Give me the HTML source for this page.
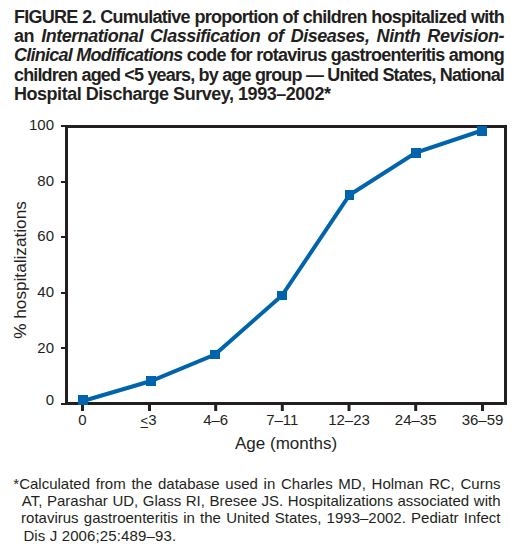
<!DOCTYPE html>
<html><head><meta charset="utf-8">
<style>
html,body{margin:0;padding:0;background:#fff;}
body{width:522px;height:549px;position:relative;overflow:hidden;font-family:"Liberation Sans",sans-serif;color:#231f20;}
.tl{position:absolute;left:14px;width:490px;font-weight:bold;font-size:18px;line-height:19.2px;height:19.2px;white-space:nowrap;}
.j{text-align:justify;text-align-last:justify;white-space:normal;}
.lab{position:absolute;font-size:15px;line-height:15px;white-space:nowrap;}
.fl{position:absolute;font-size:15px;line-height:17.27px;height:17.27px;white-space:nowrap;}
.u{text-decoration:underline;text-underline-offset:1.5px;}
</style></head><body>
<div class="tl j" style="top:8px;letter-spacing:-0.75px">FIGURE 2. Cumulative proportion of children hospitalized with</div>
<div class="tl j" style="top:27.2px;letter-spacing:-0.49px">an <i>International Classification of Diseases, Ninth Revision-</i></div>
<div class="tl j" style="top:46.4px;letter-spacing:-0.76px"><i>Clinical Modifications</i> code for rotavirus gastroenteritis among</div>
<div class="tl j" style="top:65.6px;letter-spacing:-0.85px">children aged &lt;5 years, by age group — United States, National</div>
<div class="tl" style="top:84.8px;letter-spacing:-0.47px">Hospital Discharge Survey, 1993–2002*</div>
<svg width="522" height="549" style="position:absolute;left:0;top:0">
<g stroke="#231f20" fill="none">
<rect x="66.5" y="126.5" width="439" height="277" stroke-width="3"/>
<line x1="61" y1="126" x2="66" y2="126" stroke-width="2"/>
<line x1="61" y1="182" x2="66" y2="182" stroke-width="2"/>
<line x1="61" y1="237" x2="66" y2="237" stroke-width="2"/>
<line x1="61" y1="293" x2="66" y2="293" stroke-width="2"/>
<line x1="61" y1="348" x2="66" y2="348" stroke-width="2"/>
<line x1="61" y1="404" x2="66" y2="404" stroke-width="2"/>
<line x1="82.5" y1="404" x2="82.5" y2="411" stroke-width="3"/>
<line x1="149.5" y1="404" x2="149.5" y2="411" stroke-width="3"/>
<line x1="215.7" y1="404" x2="215.7" y2="411" stroke-width="3"/>
<line x1="282.3" y1="404" x2="282.3" y2="411" stroke-width="3"/>
<line x1="349" y1="404" x2="349" y2="411" stroke-width="3"/>
<line x1="415.7" y1="404" x2="415.7" y2="411" stroke-width="3"/>
<line x1="482.5" y1="404" x2="482.5" y2="411" stroke-width="3"/>
</g>
<polyline points="83,401 151,381 215,354.5 282,295.5 349.5,195 416,152.5 482,130.5" fill="none" stroke="#0064ad" stroke-width="4" stroke-linejoin="miter"/>
<g fill="#0064ad"><rect x="78" y="395" width="10" height="10"/><rect x="146" y="376" width="10" height="10"/><rect x="210" y="350" width="10" height="9"/><rect x="277" y="291" width="10" height="9"/><rect x="345" y="190" width="9" height="10"/><rect x="411" y="148" width="10" height="10"/><rect x="477" y="126" width="10" height="10"/></g>
</svg>
<div class="lab" style="right:468px;top:117.30px">100</div>
<div class="lab" style="right:468px;top:173.30px">80</div>
<div class="lab" style="right:468px;top:228.30px">60</div>
<div class="lab" style="right:468px;top:283.80px">40</div>
<div class="lab" style="right:468px;top:340.30px">20</div>
<div class="lab" style="right:468px;top:392.10px">0</div>
<div class="lab" style="left:42.5px;width:80px;text-align:center;top:412.30px">0</div>
<div class="lab" style="left:109.5px;width:80px;text-align:center;top:412.30px"><span style='position:relative;left:-1px'><span class=u style='font-size:13px'>&lt;</span>3</span></div>
<div class="lab" style="left:175.7px;width:80px;text-align:center;top:412.30px">4–6</div>
<div class="lab" style="left:242.3px;width:80px;text-align:center;top:412.30px">7–11</div>
<div class="lab" style="left:309px;width:80px;text-align:center;top:412.30px">12–23</div>
<div class="lab" style="left:375.7px;width:80px;text-align:center;top:412.30px">24–35</div>
<div class="lab" style="left:442.5px;width:80px;text-align:center;top:412.30px">36–59</div>
<div class="lab" style="left:235px;top:435px;font-size:17px;line-height:17px">Age (months)</div>
<div class="lab" style="left:20px;top:270px;font-size:17.2px;line-height:17px;transform:translate(-50%,-50%) rotate(-90deg)">% hospitalizations</div>
<div class="fl j" style="top:475.16px;left:13.3px;width:487.20px">*Calculated from the database used in Charles MD, Holman RC, Curns</div>
<div class="fl j" style="top:492px;left:21.8px;width:478.70px">AT, Parashar UD, Glass RI, Bresee JS. Hospitalizations associated with</div>
<div class="fl j" style="top:509.16px;left:21.1px;width:479.40px">rotavirus gastroenteritis in the United States, 1993–2002. Pediatr Infect</div>
<div class="fl" style="top:527px;left:23.4px;width:477.10px;letter-spacing:0.13px">Dis J 2006;25:489–93.</div>
</body></html>
